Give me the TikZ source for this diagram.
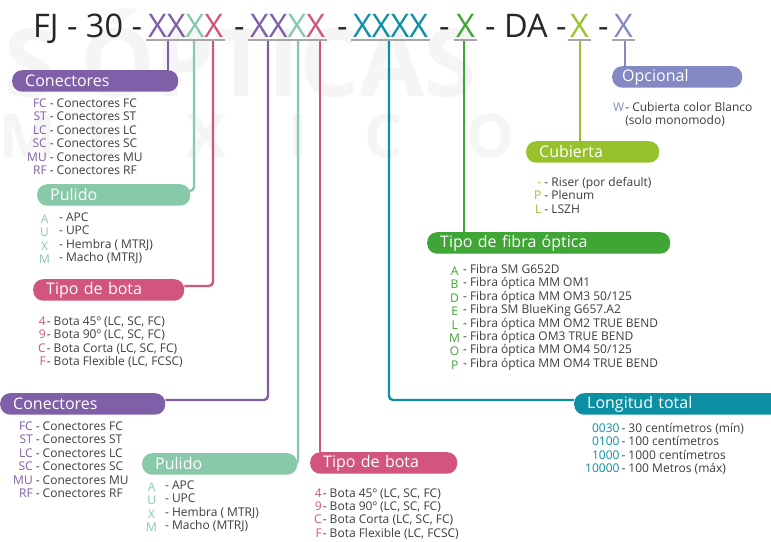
\documentclass[tikz,border=0pt]{standalone}
\usepackage{fontspec}
\setmainfont{Open Sans}
\usepackage{tikz}
\usetikzlibrary{positioning, backgrounds, calc}
\definecolor{morado}{HTML}{7F5FA7}
\definecolor{menta}{HTML}{87C9A8}
\definecolor{rosa}{HTML}{D1557C}
\definecolor{turquesa}{HTML}{0C8FA3}
\definecolor{verde}{HTML}{3FA535}
\definecolor{lima}{HTML}{97C22B}
\definecolor{lavanda}{HTML}{8489C4}
\definecolor{gristexto}{HTML}{3D3D3D}
\definecolor{grislinea}{HTML}{A6A6A6}
\tikzset{
  etiqueta/.style={rectangle, rounded corners=10pt, fill=#1, text=white, anchor=north west, align=left, inner xsep=13pt, inner ysep=0pt, minimum height=21.5pt, font=\fontsize{16}{18}\selectfont},
  clave/.style={anchor=base west, inner sep=0pt, text=black!85, font=\fontsize{32.5}{36}\selectfont},
  lista/.style={anchor=base west, inner sep=0pt, text=gristexto, font=\fontsize{12}{13.4}\selectfont},
  enlace/.style={line width=2.4pt, rounded corners=4pt},
  subraya/.style={line width=2.4pt, grislinea},
  marca/.style={inner sep=0pt, text=black!4}
}

\begin{document}
\begin{tikzpicture}[x=1pt, y=-1pt]
    \useasboundingbox (0,0) rectangle (771,541);

    % Codigo
    \node (fj) [clave] at (33,37) {FJ - 30 -};
    \node (g1) [clave] at (148,37) {\textcolor{morado}{XX}\textcolor{menta}{X}\textcolor{rosa}{X}};
    \node (s1) [clave] at (234,37) {-};
    \node (g2) [clave] at (250,37) {\textcolor{morado}{XX}\textcolor{menta}{X}\textcolor{rosa}{X}};
    \node (s2) [clave] at (337,37) {-};
    \node (g3) [clave, text=turquesa] at (353,37) {XXXX};
    \node (s3) [clave] at (439,37) {-};
    \node (g4) [clave, text=verde] at (456,37) {X};
    \node (da) [clave] at (485,37) {- DA -};
    \node (g5) [clave, text=lima] at (570,37) {X};
    \node (s5) [clave] at (598,37) {-};
    \node (g6) [clave, text=lavanda] at (614,37) {X};

    \foreach \g in {g1,g2,g3,g4,g5,g6}
        \draw [subraya] ([xshift=-2pt,yshift=-3pt]\g.base west) -- ([xshift=2pt,yshift=-3pt]\g.base east);

    \coordinate (d1) at (168,40);
    \coordinate (d2) at (194,40);
    \coordinate (d3) at (213,40);
    \coordinate (d4) at (268,40);
    \coordinate (d5) at (298,40);
    \coordinate (d6) at (320,40);
    \coordinate (d7) at (389,40);
    \coordinate (d8) at (464,40);
    \coordinate (d9) at (580,40);
    \coordinate (d10) at (625,40);

    % Cajas
    \node (con1) [etiqueta=morado, text width=140pt] at (12,70) {Conectores};
    \node (pul1) [etiqueta=menta, text width=127pt] at (37,184) {Pulido};
    \node (bota1) [etiqueta=rosa, text width=125pt] at (33,279) {Tipo de bota};
    \node (con2) [etiqueta=morado, text width=139pt] at (0,393) {Conectores};
    \node (pul2) [etiqueta=menta, text width=129pt] at (142,453) {Pulido};
    \node (bota2) [etiqueta=rosa, text width=121pt] at (310,452) {Tipo de bota};
    \node (fib) [etiqueta=verde, text width=217pt] at (427,232) {Tipo de fibra óptica};
    \node (cub) [etiqueta=lima, text width=107pt] at (526,141) {Cubierta};
    \node (opc) [etiqueta=lavanda, text width=110pt, inner xsep=10pt] at (612,66) {Opcional};
    \node (lon) [etiqueta=turquesa, text width=182pt] at (574,393) {Longitud total};

    % Listas
    \node (lcon1) [lista] at (27,107.5) {\begin{tabular}[t]{@{}r@{\hspace{3pt}}l@{}}
        \textcolor{morado}{FC} & - Conectores FC\\
        \textcolor{morado}{ST} & - Conectores ST\\
        \textcolor{morado}{LC} & - Conectores LC\\
        \textcolor{morado}{SC} & - Conectores SC\\
        \textcolor{morado}{MU} & - Conectores MU\\
        \textcolor{morado}{RF} & - Conectores RF
    \end{tabular}};
    \node (lpul1) [lista] at (39,221.5) {\begin{tabular}[t]{@{}c@{\hspace{9pt}}l@{}}
        \raisebox{-2pt}{\textcolor{menta}{A}} & - APC\\
        \raisebox{-2pt}{\textcolor{menta}{U}} & - UPC\\
        \raisebox{-2pt}{\textcolor{menta}{X}} & - Hembra ( MTRJ)\\
        \raisebox{-2pt}{\textcolor{menta}{M}} & - Macho (MTRJ)
    \end{tabular}};
    \node (lbota1) [lista] at (38,325.5) {\begin{tabular}[t]{@{}r@{\hspace{1pt}}l@{}}
        \textcolor{rosa}{4} & - Bota 45º (LC, SC, FC)\\
        \textcolor{rosa}{9} & - Bota 90º (LC, SC, FC)\\
        \textcolor{rosa}{C} & - Bota Corta (LC, SC, FC)\\
        \textcolor{rosa}{F} & - Bota Flexible (LC, FCSC)
    \end{tabular}};
    \node (lcon2) [lista] at (13,430.5) {\begin{tabular}[t]{@{}r@{\hspace{3pt}}l@{}}
        \textcolor{morado}{FC} & - Conectores FC\\
        \textcolor{morado}{ST} & - Conectores ST\\
        \textcolor{morado}{LC} & - Conectores LC\\
        \textcolor{morado}{SC} & - Conectores SC\\
        \textcolor{morado}{MU} & - Conectores MU\\
        \textcolor{morado}{RF} & - Conectores RF
    \end{tabular}};
    \node (lpul2) [lista] at (146,489.5) {\begin{tabular}[t]{@{}c@{\hspace{8pt}}l@{}}
        \raisebox{-2pt}{\textcolor{menta}{A}} & - APC\\
        \raisebox{-2pt}{\textcolor{menta}{U}} & - UPC\\
        \raisebox{-2pt}{\textcolor{menta}{X}} & - Hembra ( MTRJ)\\
        \raisebox{-2pt}{\textcolor{menta}{M}} & - Macho (MTRJ)
    \end{tabular}};
    \node (lbota2) [lista] at (314,497) {\begin{tabular}[t]{@{}r@{\hspace{1pt}}l@{}}
        \textcolor{rosa}{4} & - Bota 45º (LC, SC, FC)\\
        \textcolor{rosa}{9} & - Bota 90º (LC, SC, FC)\\
        \textcolor{rosa}{C} & - Bota Corta (LC, SC, FC)\\
        \textcolor{rosa}{F} & - Bota Flexible (LC, FCSC)
    \end{tabular}};
    \node (lfib) [lista] at (449,273.5) {\begin{tabular}[t]{@{}c@{\hspace{3pt}}l@{}}
        \raisebox{-2pt}{\textcolor{verde}{A}} & - Fibra SM G652D\\
        \raisebox{-2pt}{\textcolor{verde}{B}} & - Fibra óptica MM OM1\\
        \raisebox{-2pt}{\textcolor{verde}{D}} & - Fibra óptica MM OM3 50/125\\
        \raisebox{-2pt}{\textcolor{verde}{E}} & - Fibra SM BlueKing G657.A2\\
        \raisebox{-2pt}{\textcolor{verde}{L}} & - Fibra óptica MM OM2 TRUE BEND\\
        \raisebox{-2pt}{\textcolor{verde}{M}} & - Fibra óptica OM3 TRUE BEND\\
        \raisebox{-2pt}{\textcolor{verde}{O}} & - Fibra óptica MM OM4 50/125\\
        \raisebox{-2pt}{\textcolor{verde}{P}} & - Fibra óptica MM OM4 TRUE BEND
    \end{tabular}};
    \node (lcub) [lista] at (534,186.5) {\begin{tabular}[t]{@{}r@{\hspace{3pt}}l@{}}
        \textcolor{lima}{-} & - Riser (por default)\\
        \textcolor{lima}{P} & - Plenum\\
        \textcolor{lima}{L} & - LSZH
    \end{tabular}};
    \node (lopc) [lista] at (613,111) {\begin{tabular}[t]{@{}r@{\hspace{1pt}}l@{}}
        \textcolor{lavanda}{W} & - Cubierta color Blanco\\
        & (solo monomodo)
    \end{tabular}};
    \node (llon) [lista] at (585,432.5) {\begin{tabular}[t]{@{}r@{\hspace{2pt}}l@{}}
        \textcolor{turquesa}{0030} & - 30 centímetros (mín)\\
        \textcolor{turquesa}{0100} & - 100 centímetros\\
        \textcolor{turquesa}{1000} & - 1000 centímetros\\
        \textcolor{turquesa}{10000} & - 100 Metros (máx)
    \end{tabular}};

    % Fondo y lineas
    \begin{scope}[on background layer]
        \fill [white] (0,0) rectangle (771,541);
        \node (sopt) [marca, anchor=base west, font=\fontsize{94}{94}\bfseries] at (4,96) {S ÓPTICAS};
        \foreach \l/\x in {M/28, É/102, X/207, I/298, C/384, O/490}
            \node [marca, anchor=base, font=\fontsize{60}{60}\bfseries] at (\x,157) {\l};

        \draw [enlace, morado] (d1) -- (d1 |- con1.north);
        \draw [enlace, menta] (d2) |- ([yshift=4pt]pul1.east);
        \draw [enlace, rosa] (d3) |- ([yshift=4pt]bota1.east);
        \draw [enlace, morado] (d4) |- ([yshift=4pt]con2.east);
        \draw [enlace, menta] (d5) |- (pul2.east);
        \draw [enlace, rosa] (d6) -- (d6 |- bota2.north);
        \draw [enlace, turquesa] (d7) |- ([yshift=4pt]lon.west);
        \draw [enlace, verde] (d8) -- (d8 |- fib.north);
        \draw [enlace, lima] (d9) -- (d9 |- cub.north);
        \draw [enlace, lavanda] (d10) -- (d10 |- opc.north);
    \end{scope}
\end{tikzpicture}
\end{document}
